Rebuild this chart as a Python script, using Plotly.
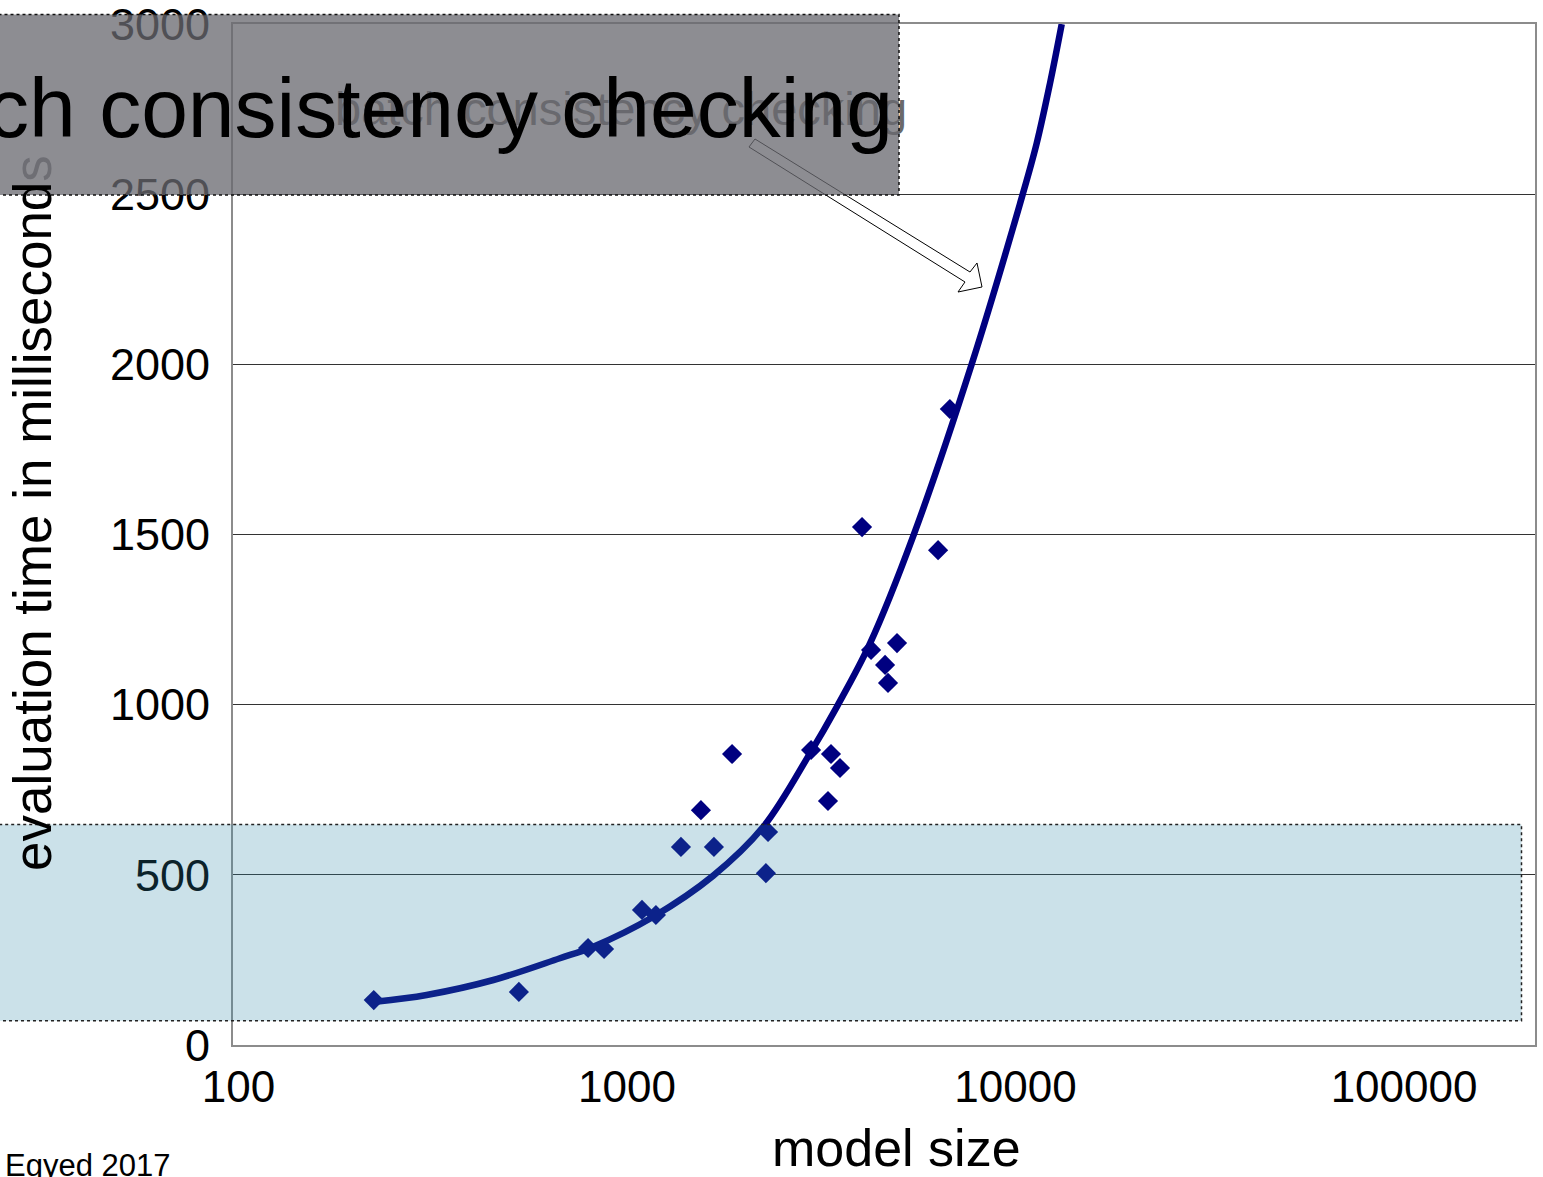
import plotly.graph_objects as go

# ---------------- data ----------------
model_size = [223, 527, 794, 873, 1093, 1187, 1377, 1550, 1674, 1864, 2278, 2307,
              2977, 3291, 3350, 3534, 4027, 4248, 4616, 4697, 4955, 6320, 6776]
eval_ms = [132, 156, 285, 282, 397, 382, 582, 690, 582, 855, 505, 626,
           867, 717, 855, 814, 1522, 1161, 1117, 1064, 1181, 1454, 1869]

# trend line
trend_size = [225, 305, 453, 672, 819, 1169, 1665, 2243, 2958, 3477, 4222,
              5457, 7715, 10436, 11338, 12267, 13150]
trend_ms = [127, 147, 191, 255, 289, 377, 497, 641, 857, 996, 1180,
            1496, 2001, 2500, 2650, 2826, 3000]

y_ticks = [0, 500, 1000, 1500, 2000, 2500, 3000]
x_ticks = [100, 1000, 10000, 100000]
x_tick_labels = ["100", "1000", "10000", "100000"]

chart_title = "batch consistency checking"
slide_title = "Batch consistency checking"
x_title = "model size"
y_title = "evaluation time in milliseconds"
credit = "Egyed 2017"

# ---------------- geometry helpers ----------------
W, H = 1543, 1177
L, R, T, B = 233, 8, 24, 132
PW = W - L - R
PH = H - T - B


def px(x):
    return (x - L) / PW


def py(y):
    return (H - B - y) / PH


FONT = "Liberation Sans, Arial, sans-serif"
NAVY = "#000080"

fig = go.Figure()

# faded chart title (lies under the grey overlay box)
fig.add_trace(go.Scatter(
    x=[965], y=[2737], mode="text", text=[chart_title],
    textposition="middle center", cliponaxis=False,
    textfont=dict(family=FONT, size=47, color="#6a6a6a"),
    hoverinfo="skip", showlegend=False))

fig.add_trace(go.Scatter(
    x=model_size, y=eval_ms, mode="markers",
    marker=dict(symbol="diamond", size=15.5, color=NAVY, line=dict(width=0)),
    showlegend=False))

fig.add_trace(go.Scatter(
    x=trend_size, y=trend_ms, mode="lines",
    line=dict(color=NAVY, width=6.5, shape="spline", smoothing=1.0),
    showlegend=False))

# hollow block arrow (decoration)
arrow_px = [(755, 139), (970, 272), (977, 263), (982, 287), (958, 292), (965, 282), (749, 147)]
path = "M " + " L ".join(f"{px(a):.5f},{py(b):.5f}" for a, b in arrow_px) + " Z"

shapes = [
    dict(type="path", xref="paper", yref="paper", path=path,
         fillcolor="white", line=dict(color="black", width=1), layer="above"),
    # grey title box (semi transparent)
    dict(type="rect", xref="paper", yref="paper",
         x0=px(-3), x1=px(899), y0=py(195), y1=py(14.5),
         fillcolor="rgba(105,105,112,0.76)",
         line=dict(color="#111111", width=1.5, dash="dot"), layer="above"),
    # light blue band
    dict(type="rect", xref="paper", yref="paper",
         x0=px(-3), x1=px(1521.5), y0=py(1020.7), y1=py(824.5),
         fillcolor="rgba(47,135,167,0.25)",
         line=dict(color="#222222", width=1.5, dash="dot"), layer="above"),
]

annotations = [
    dict(xref="paper", yref="paper", x=px(895), y=py(108), xanchor="right", yanchor="middle",
         text=slide_title, showarrow=False,
         font=dict(family=FONT, size=84, color="black")),
    dict(xref="paper", yref="paper", x=px(32), y=py(513), xanchor="center", yanchor="middle",
         textangle=-90, showarrow=False,
         text="evaluation time in millisecond<span style='color:#6e6e74'>s</span>",
         font=dict(family=FONT, size=53, color="black")),
    dict(xref="paper", yref="paper", x=px(896.5), y=py(1148), xanchor="center", yanchor="middle",
         text=x_title, showarrow=False,
         font=dict(family=FONT, size=52, color="black")),
    dict(xref="paper", yref="paper", x=px(3), y=py(1165), xanchor="left", yanchor="middle",
         text=credit, showarrow=False,
         font=dict(family=FONT, size=31, color="black")),
]

fig.update_layout(
    width=W, height=H,
    margin=dict(l=L, r=R, t=T, b=B, pad=0, autoexpand=False),
    paper_bgcolor="white", plot_bgcolor="white",
    showlegend=False,
    font=dict(family=FONT, color="black"),
    shapes=shapes, annotations=annotations,
    xaxis=dict(type="log", range=[1.986, 5.337], automargin=False,
               tickvals=x_ticks, ticktext=x_tick_labels,
               showgrid=False, zeroline=False, ticks="",
               showline=True, linecolor="#8c8c8c", linewidth=2, mirror=True,
               tickfont=dict(family=FONT, size=44, color="black"),
               ticklabelstandoff=2, ticklabeloverflow="allow"),
    yaxis=dict(range=[0, 3000.3], tickvals=y_ticks, automargin=False,
               showgrid=True, gridcolor="#333333", gridwidth=1,
               zeroline=False, ticks="",
               showline=True, linecolor="#8c8c8c", linewidth=2, mirror=True,
               tickfont=dict(family=FONT, size=45, color="black"),
               ticklabelstandoff=12, ticklabeloverflow="allow"),
)

fig.write_html("out.html")
